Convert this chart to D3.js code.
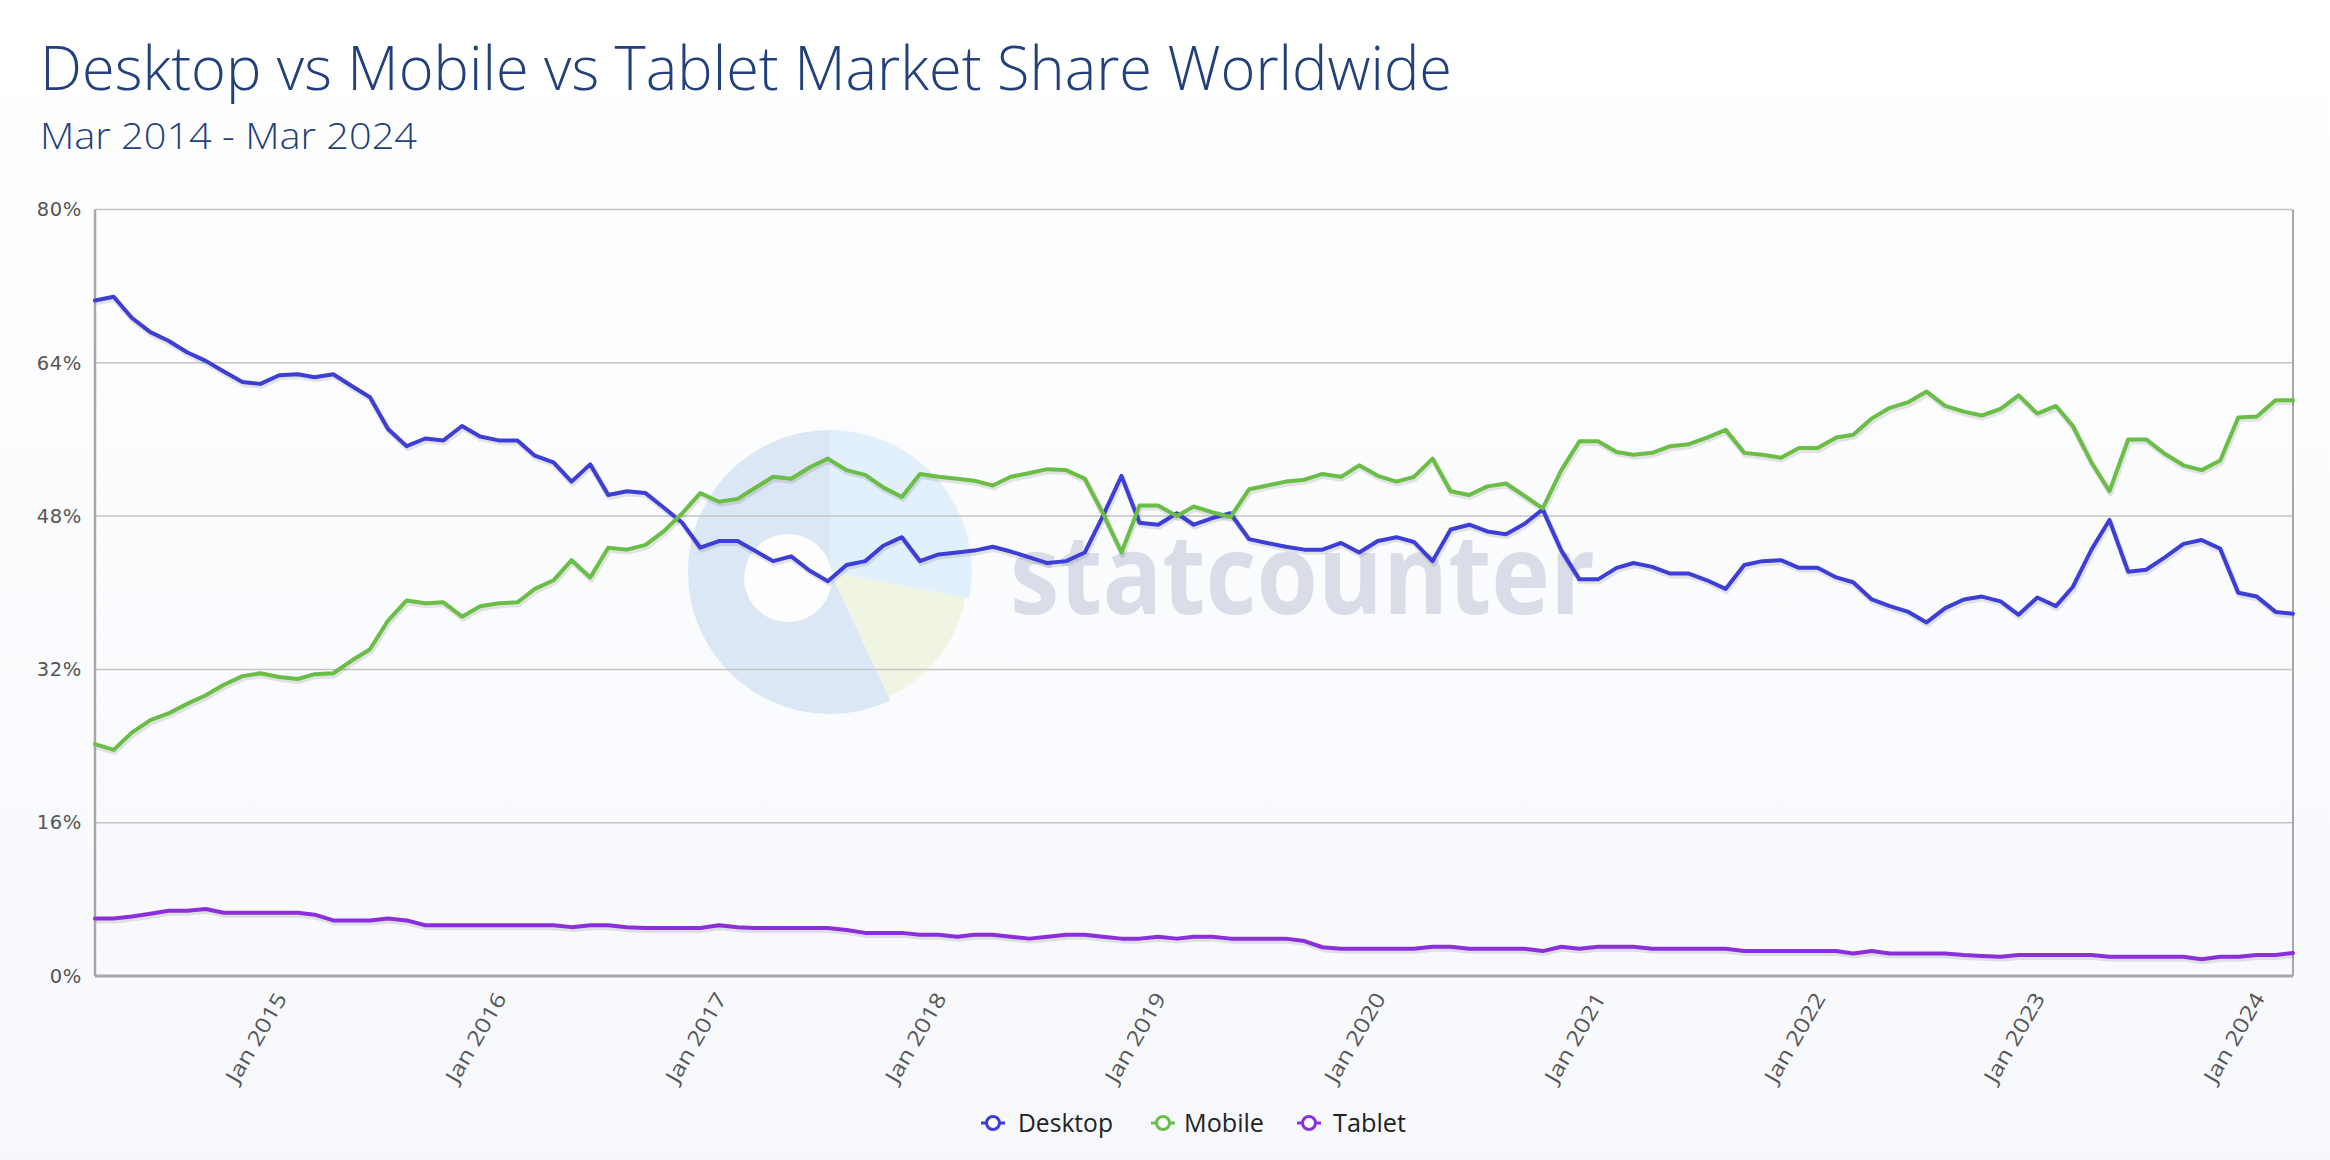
<!DOCTYPE html>
<html>
<head>
<meta charset="utf-8">
<script src="https://cdn.jsdelivr.net/npm/d3@7"></script>
<style>
  html, body { margin: 0; padding: 0; background: #ffffff; }
  svg { display: block; }
</style>
</head>
<body>
<svg id="chart" width="2330" height="1160"></svg>
<script>
// ---------------- DATA ----------------
const startMonth = new Date(2014, 2, 1);   // Mar 2014
const endMonth = new Date(2024, 2, 1);     // Mar 2024
const months = d3.timeMonth.range(startMonth, d3.timeMonth.offset(endMonth, 1));

const desktop = [
  70.5, 70.9, 68.7, 67.2, 66.3, 65.1, 64.2, 63.1, 62.0, 61.8,
  62.7, 62.8, 62.5, 62.8, 61.6, 60.4, 57.1, 55.3, 56.1, 55.9,
  57.4, 56.3, 55.9, 55.9, 54.3, 53.6, 51.6, 53.4, 50.2, 50.6,
  50.4, 48.9, 47.3, 44.7, 45.4, 45.4, 44.4, 43.3, 43.8, 42.3,
  41.2, 42.9, 43.3, 44.9, 45.8, 43.3, 44.0, 44.2, 44.4, 44.8,
  44.3, 43.7, 43.1, 43.3, 44.2, 48.0, 52.2, 47.3, 47.1, 48.3,
  47.1, 47.8, 48.3, 45.6, 45.2, 44.8, 44.5, 44.5, 45.2, 44.2,
  45.4, 45.8, 45.3, 43.3, 46.6, 47.1, 46.4, 46.1, 47.2, 48.7,
  44.4, 41.4, 41.4, 42.6, 43.1, 42.7, 42.0, 42.0, 41.3, 40.4,
  42.9, 43.3, 43.4, 42.6, 42.6, 41.6, 41.1, 39.3, 38.6, 38.0,
  36.9, 38.4, 39.3, 39.6, 39.1, 37.7, 39.5, 38.6, 40.6, 44.5,
  47.6, 42.2, 42.4, 43.7, 45.1, 45.5, 44.6, 40.0, 39.6, 38.0,
  37.8
];

const mobile = [
  24.2, 23.6, 25.4, 26.7, 27.4, 28.4, 29.3, 30.4, 31.3, 31.6,
  31.2, 31.0, 31.5, 31.6, 32.9, 34.1, 37.1, 39.2, 38.9, 39.0,
  37.5, 38.6, 38.9, 39.0, 40.4, 41.3, 43.4, 41.6, 44.7, 44.5,
  45.0, 46.4, 48.3, 50.4, 49.5, 49.8, 50.9, 52.1, 51.9, 53.1,
  54.0, 52.8, 52.3, 51.0, 50.0, 52.4, 52.1, 51.9, 51.7, 51.2,
  52.1, 52.5, 52.9, 52.8, 51.9, 48.3, 44.2, 49.1, 49.1, 48.0,
  49.0, 48.4, 47.9, 50.8, 51.2, 51.6, 51.8, 52.4, 52.1, 53.3,
  52.2, 51.6, 52.1, 54.0, 50.6, 50.2, 51.1, 51.4, 50.1, 48.8,
  52.8, 55.8, 55.8, 54.7, 54.4, 54.6, 55.3, 55.5, 56.2, 57.0,
  54.6, 54.4, 54.1, 55.1, 55.1, 56.2, 56.5, 58.2, 59.3, 59.9,
  61.0, 59.5, 58.9, 58.5, 59.2, 60.6, 58.7, 59.5, 57.4, 53.6,
  50.6, 56.0, 56.0, 54.5, 53.3, 52.8, 53.8, 58.3, 58.4, 60.1,
  60.1
];

const tablet = [
  6.0, 6.0, 6.2, 6.5, 6.8, 6.8, 7.0, 6.6, 6.6, 6.6,
  6.6, 6.6, 6.4, 5.8, 5.8, 5.8, 6.0, 5.8, 5.3, 5.3,
  5.3, 5.3, 5.3, 5.3, 5.3, 5.3, 5.1, 5.3, 5.3, 5.1,
  5.0, 5.0, 5.0, 5.0, 5.3, 5.1, 5.0, 5.0, 5.0, 5.0,
  5.0, 4.8, 4.5, 4.5, 4.5, 4.3, 4.3, 4.1, 4.3, 4.3,
  4.1, 3.9, 4.1, 4.3, 4.3, 4.1, 3.9, 3.9, 4.1, 3.9,
  4.1, 4.1, 3.9, 3.9, 3.9, 3.9, 3.65, 3.0, 2.85, 2.85,
  2.85, 2.85, 2.85, 3.05, 3.05, 2.85, 2.85, 2.85, 2.85, 2.6,
  3.05, 2.85, 3.05, 3.05, 3.05, 2.85, 2.85, 2.85, 2.85, 2.85,
  2.6, 2.6, 2.6, 2.6, 2.6, 2.6, 2.35, 2.6, 2.35, 2.35,
  2.35, 2.35, 2.2, 2.1, 2.0, 2.2, 2.2, 2.2, 2.2, 2.2,
  2.0, 2.0, 2.0, 2.0, 2.0, 1.75, 2.0, 2.0, 2.2, 2.2,
  2.4
];

const seriesNames = ["Desktop", "Mobile", "Tablet"];
const seriesColors = ["#3d3dd8", "#6abd45", "#8b2fdc"];
const seriesValues = [desktop, mobile, tablet];

const yTicks = [0, 16, 32, 48, 64, 80];
const xTickDates = d3.range(2015, 2025).map(y => new Date(y, 0, 1));
const xTickLabels = ["Jan 2015", "Jan 2016", "Jan 2017", "Jan 2018", "Jan 2019",
                     "Jan 2020", "Jan 2021", "Jan 2022", "Jan 2023", "Jan 2024"];

const titleText = "Desktop vs Mobile vs Tablet Market Share Worldwide";
const subtitleText = "Mar 2014 - Mar 2024";

// ---------------- LAYOUT ----------------
const W = 2330, H = 1160;
const plot = { left: 95, right: 2293, top: 209.5, bottom: 976 };

const svg = d3.select("#chart");
const defs = svg.append("defs");
const bg = defs.append("linearGradient").attr("id", "bgGrad")
  .attr("x1", 0).attr("y1", 0).attr("x2", 0).attr("y2", 1);
bg.append("stop").attr("offset", "0%").attr("stop-color", "#ffffff");
bg.append("stop").attr("offset", "100%").attr("stop-color", "#f6f8fc");
svg.append("rect").attr("width", W).attr("height", H).attr("fill", "url(#bgGrad)");

const x = d3.scaleTime().domain([startMonth, endMonth]).range([plot.left, plot.right]);
const y = d3.scaleLinear().domain([0, 80]).range([plot.bottom, plot.top]);

// ---------------- WATERMARK ----------------
const wm = svg.append("g").attr("class", "watermark");
const pieC = { x: 830, y: 572 };
const arc = d3.arc();
wm.append("path")
  .attr("transform", `translate(${pieC.x},${pieC.y})`)
  .attr("d", arc({ innerRadius: 0, outerRadius: 142, startAngle: 0, endAngle: Math.PI * 0.56 }))
  .attr("fill", "#e2f0fb");
wm.append("path")
  .attr("transform", `translate(${pieC.x},${pieC.y})`)
  .attr("d", arc({ innerRadius: 0, outerRadius: 138, startAngle: Math.PI * 0.56, endAngle: Math.PI * 0.86 }))
  .attr("fill", "#f0f5e3");
wm.append("path")
  .attr("transform", `translate(${pieC.x},${pieC.y})`)
  .attr("d", arc({ innerRadius: 0, outerRadius: 142, startAngle: Math.PI * 0.86, endAngle: Math.PI * 2 }))
  .attr("fill", "#dce7f5");
wm.append("circle").attr("cx", 788).attr("cy", 578).attr("r", 44).attr("fill", "#fdfdfe");
wm.append("text")
  .attr("x", 1010).attr("y", 614)
  .attr("font-family", "'Open Sans', sans-serif")
  .attr("font-weight", 700)
  .attr("font-size", 112)
  .attr("textLength", 585)
  .attr("lengthAdjust", "spacingAndGlyphs")
  .attr("fill", "#d8dde8")
  .text("statcounter");

// ---------------- GRID & AXES ----------------
const gridG = svg.append("g").attr("class", "grid");
gridG.selectAll("line")
  .data(yTicks.filter(t => t > 0))
  .join("line")
  .attr("x1", plot.left).attr("x2", plot.right)
  .attr("y1", d => y(d)).attr("y2", d => y(d))
  .attr("stroke", "#c4c4c4").attr("stroke-width", 1.5);

const yAxis = svg.append("g")
  .attr("transform", `translate(${plot.left},0)`)
  .call(d3.axisLeft(y).tickValues(yTicks).tickFormat(d => d + "%").tickSize(0).tickPadding(13));
yAxis.select(".domain").remove();
yAxis.selectAll("text")
  .attr("font-family", "'DejaVu Sans', Verdana, sans-serif")
  .attr("font-size", 19.5)
  .attr("letter-spacing", 0.6)
  .attr("fill", "#555555");

// plot border (left, bottom, right)
svg.append("line").attr("x1", plot.left).attr("x2", plot.left)
  .attr("y1", plot.top).attr("y2", plot.bottom).attr("stroke", "#a8a8a8").attr("stroke-width", 2.5);
svg.append("line").attr("x1", plot.right).attr("x2", plot.right)
  .attr("y1", plot.top).attr("y2", plot.bottom).attr("stroke", "#a8a8a8").attr("stroke-width", 2);
svg.append("line").attr("x1", plot.left).attr("x2", plot.right)
  .attr("y1", plot.bottom).attr("y2", plot.bottom).attr("stroke", "#a8a8a8").attr("stroke-width", 3);

const xAxis = svg.append("g")
  .attr("transform", `translate(0,${plot.bottom})`)
  .call(d3.axisBottom(x).tickValues(xTickDates)
    .tickFormat((d, i) => xTickLabels[i]).tickSize(0));
xAxis.select(".domain").remove();
xAxis.selectAll("text")
  .attr("font-family", "'Open Sans', sans-serif")
  .attr("font-size", 21)
  .attr("fill", "#555555")
  .attr("text-anchor", "end")
  .attr("dy", null)
  .attr("y", 0)
  .attr("transform", "translate(8,22) rotate(-60)")
  .attr("textLength", 100)
  .attr("lengthAdjust", "spacingAndGlyphs");

// ---------------- LINES ----------------
const lineGen = d3.line()
  .x((d, i) => x(months[i]))
  .y(d => y(d));

const linesG = svg.append("g").attr("class", "lines");
seriesValues.forEach((vals, k) => {
  linesG.append("path")
    .datum(vals)
    .attr("d", lineGen)
    .attr("fill", "none")
    .attr("stroke", "rgba(0,0,0,0.10)")
    .attr("stroke-width", 6)
    .attr("stroke-linejoin", "round")
    .attr("transform", "translate(1,2)");
});
seriesValues.forEach((vals, k) => {
  linesG.append("path")
    .datum(vals)
    .attr("d", lineGen)
    .attr("fill", "none")
    .attr("stroke", seriesColors[k])
    .attr("stroke-width", 4)
    .attr("stroke-linejoin", "round")
    .attr("stroke-linecap", "round");
});

// ---------------- TITLES ----------------
svg.append("text")
  .attr("x", 40).attr("y", 90)
  .attr("font-family", "'Open Sans', sans-serif")
  .attr("font-weight", 300)
  .attr("font-size", 60)
  .attr("fill", "#22417c")
  .attr("textLength", 1412)
  .attr("lengthAdjust", "spacingAndGlyphs")
  .text(titleText);
svg.append("text")
  .attr("x", 40).attr("y", 149)
  .attr("font-family", "'Open Sans', sans-serif")
  .attr("font-weight", 300)
  .attr("font-size", 36)
  .attr("fill", "#22417c")
  .attr("textLength", 377)
  .attr("lengthAdjust", "spacingAndGlyphs")
  .text(subtitleText);

// ---------------- LEGEND ----------------
const legendItems = [
  { name: seriesNames[0], color: seriesColors[0], mx: 993, tx: 1018, tw: 95 },
  { name: seriesNames[1], color: seriesColors[1], mx: 1163, tx: 1184, tw: 80 },
  { name: seriesNames[2], color: seriesColors[2], mx: 1309, tx: 1333, tw: 73 }
];
const legend = svg.append("g").attr("class", "legend");
const ly = 1123;
legendItems.forEach(it => {
  legend.append("line")
    .attr("x1", it.mx - 12).attr("x2", it.mx + 12)
    .attr("y1", ly).attr("y2", ly)
    .attr("stroke", it.color).attr("stroke-width", 3);
  legend.append("circle")
    .attr("cx", it.mx).attr("cy", ly).attr("r", 6.5)
    .attr("fill", "#ffffff").attr("stroke", it.color).attr("stroke-width", 3);
  legend.append("text")
    .attr("x", it.tx).attr("y", ly + 9)
    .attr("font-family", "'Open Sans', sans-serif")
    .attr("font-size", 25)
    .attr("fill", "#222222")
    .attr("textLength", it.tw)
    .attr("lengthAdjust", "spacingAndGlyphs")
    .text(it.name);
});
</script>
</body>
</html>
